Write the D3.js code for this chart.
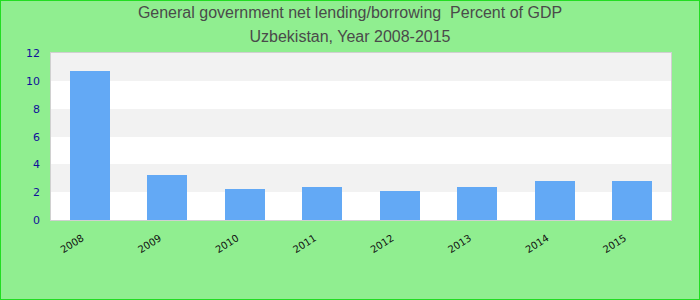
<!DOCTYPE html>
<html>
<head>
<meta charset="utf-8">
<script src="https://cdn.jsdelivr.net/npm/d3@7"></script>
<style>
  html, body { margin: 0; padding: 0; }
  body { width: 700px; height: 300px; overflow: hidden; }
  svg { display: block; font-family: "Liberation Sans", Arial, sans-serif; }
  .title { white-space: pre; }
</style>
</head>
<body>
<script>
// data
const years = ['2008', '2009', '2010', '2011', '2012', '2013', '2014', '2015'];
const values = [10.7, 3.25, 2.25, 2.4, 2.1, 2.4, 2.8, 2.8];
const yTicks = [0, 2, 4, 6, 8, 10, 12];
const titleLines = ['General government net lending/borrowing  Percent of GDP', 'Uzbekistan, Year 2008-2015'];

const width = 700, height = 300;
const plot = {left: 51, right: 671, top: 53, bottom: 220};

const svg = d3.select('body').append('svg')
  .attr('width', width)
  .attr('height', height);

// background + green frame
svg.append('rect')
  .attr('x', 0.5).attr('y', 0.5)
  .attr('width', width - 1).attr('height', height - 1)
  .attr('fill', '#90ee90')
  .attr('stroke', '#22dd22')
  .attr('stroke-width', 1);

svg.selectAll('.title')
  .data(titleLines)
  .enter().append('text')
  .attr('class', 'title')
  .attr('x', width / 2)
  .attr('y', (d, i) => 18 + i * 24)
  .attr('text-anchor', 'middle')
  .attr('font-size', 16)
  .attr('fill', '#4a4a4a')
  .text(d => d);

const x = d3.scaleBand().domain(years).range([plot.left, plot.right]).padding(0);
const y = d3.scaleLinear().domain([0, 12]).range([plot.bottom, plot.top]);

// alternating bands, grey on top
const bands = d3.pairs(yTicks);
svg.selectAll('.band')
  .data(bands)
  .enter().append('rect')
  .attr('class', 'band')
  .attr('x', plot.left)
  .attr('width', plot.right - plot.left)
  .attr('y', d => Math.round(y(d[1])))
  .attr('height', d => Math.round(y(d[0])) - Math.round(y(d[1])))
  .attr('fill', (d, i) => i % 2 ? '#f2f2f2' : '#ffffff')
  .attr('shape-rendering', 'crispEdges');

// bars take about half of each band
const barW = x.bandwidth() * 0.516;
svg.selectAll('.bar')
  .data(values)
  .enter().append('rect')
  .attr('class', 'bar')
  .attr('x', (d, i) => x(years[i]) + (x.bandwidth() - barW) / 2)
  .attr('width', barW)
  .attr('y', d => y(d))
  .attr('height', d => y(0) - y(d))
  .attr('fill', '#63a9f5')
  .attr('shape-rendering', 'crispEdges');

// plot frame
svg.append('rect')
  .attr('x', plot.left - 0.5).attr('y', plot.top - 0.5)
  .attr('width', plot.right - plot.left + 1)
  .attr('height', plot.bottom - plot.top + 1)
  .attr('fill', 'none')
  .attr('stroke', '#d0d0d0')
  .attr('stroke-width', 1);

// y axis labels
const yAxis = svg.append('g')
  .attr('transform', 'translate(' + (plot.left - 11) + ',0)')
  .call(d3.axisLeft(y).tickValues(yTicks).tickSize(0).tickPadding(0));
yAxis.select('.domain').remove();
yAxis.selectAll('text')
  .attr('font-family', '"DejaVu Sans", sans-serif')
  .attr('font-size', 11)
  .attr('fill', '#10109a');

// x axis labels, tilted
const xAxis = svg.append('g')
  .attr('transform', 'translate(0,' + plot.bottom + ')')
  .call(d3.axisBottom(x).tickSize(0).tickPadding(0));
xAxis.select('.domain').remove();
xAxis.selectAll('text')
  .attr('font-family', '"DejaVu Sans", sans-serif')
  .attr('font-size', 10)
  .attr('fill', '#111')
  .attr('text-anchor', 'end')
  .attr('dy', 0)
  .attr('transform', 'translate(-5,20) rotate(-32)');
</script>
</body>
</html>
